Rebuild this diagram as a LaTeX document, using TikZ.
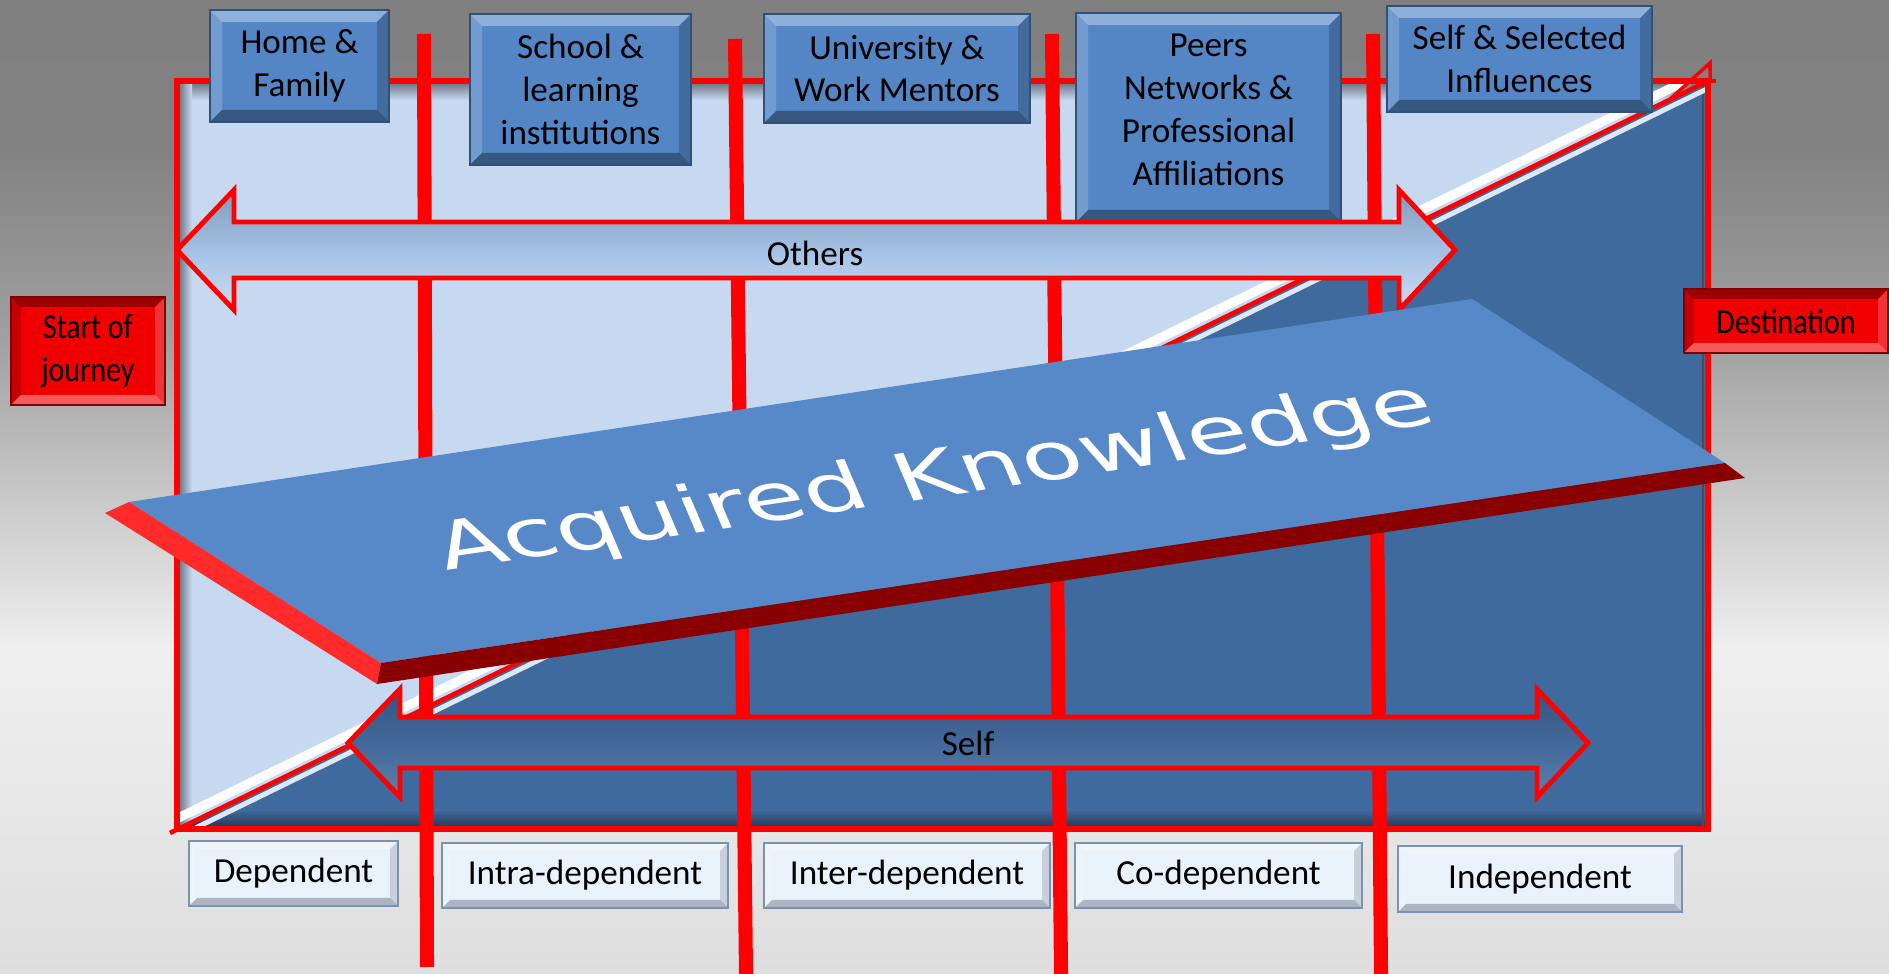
\documentclass[tikz,border=0pt]{standalone}
\usepackage{fontspec}
\setmainfont{Carlito}
\newfontfamily\platefont{DejaVu Sans}
\newfontfamily\condfont[FakeStretch=0.85]{Carlito}
\usetikzlibrary{calc}

\definecolor{framelight}{RGB}{198,217,241}
\definecolor{framedark}{RGB}{63,106,158}
\definecolor{boxblue}{RGB}{84,134,198}
\definecolor{platetop}{RGB}{87,137,200}
\definecolor{plateside}{RGB}{255,42,42}
\definecolor{platefront}{RGB}{136,0,0}
\definecolor{othersfill}{RGB}{163,193,229}
\definecolor{selffill}{RGB}{66,105,155}
\definecolor{lowfill}{RGB}{233,241,251}
\definecolor{lowedge}{RGB}{120,145,180}
\definecolor{journeyred}{RGB}{240,0,0}

\tikzset{%
	bevel/.style n args={3}{path picture={%
		\coordinate (bnw) at (path picture bounding box.north west);
		\coordinate (bne) at (path picture bounding box.north east);
		\coordinate (bsw) at (path picture bounding box.south west);
		\coordinate (bse) at (path picture bounding box.south east);
		\fill[#1,opacity=.35] (bnw) -- (bne) -- ([shift={(-#3,-#3)}]bne) -- ([shift={(#3,-#3)}]bnw) -- cycle;
		\fill[#1,opacity=.18] (bnw) -- (bsw) -- ([shift={(#3,#3)}]bsw) -- ([shift={(#3,-#3)}]bnw) -- cycle;
		\fill[#2,opacity=.2] (bne) -- (bse) -- ([shift={(-#3,#3)}]bse) -- ([shift={(-#3,-#3)}]bne) -- cycle;
		\fill[#2,opacity=.35] (bsw) -- (bse) -- ([shift={(-#3,#3)}]bse) -- ([shift={(#3,#3)}]bsw) -- cycle;
	}},%
	boxopt/.style={#1},%
	topbox/.style={fill=boxblue,draw=boxblue!60!black,line width=.4pt,bevel={white}{black}{.12cm},inner sep=0pt,align=center,font=\fontsize{10}{12.2}\selectfont},%
	lowbox/.style={fill=lowfill,draw=lowedge,line width=.6pt,bevel={white}{lowedge!50!black}{.08cm},inner sep=0pt,font=\fontsize{10}{12.2}\selectfont},%
	redbox/.style={fill=journeyred,draw=red!50!black,line width=.4pt,bevel={black}{white}{.1cm},inner sep=0pt,align=center,font=\condfont\fontsize{10}{12.2}\selectfont},%
	redbar/.style={red,line width=4pt},%
	bigarrow/.style={draw=red,line width=1.4pt,line join=miter},%
}

\begin{document}
\begin{tikzpicture}[x=0.01cm,y=-0.01cm] % picture in pixel units
\useasboundingbox (0,0) rectangle (1889,974);
\foreach \ya/\yb/\ca/\cb in%
{%
	0/150/50/49,150/340/49/37,340/490/37/22,490/650/22/6,650/974/6/13%
}{%
	\fill[top color=black!\ca,bottom color=black!\cb] (0,\ya) rectangle (1889,\yb+1);
}%
\fill[framelight] (177,81) rectangle (1708,829);
\fill[top color=framelight!55!black,bottom color=framelight] (179,83) rectangle (1706,100);
\fill[left color=framelight!55!black,right color=framelight] (179,83) rectangle (192,827);
\begin{scope}
	\clip (177,829) -- (1708,829) -- (1708,81) -- cycle;
	\fill[framedark] (177,829) -- (1708,829) -- (1708,81) -- cycle;
	\fill[top color=framedark,bottom color=framedark!55!black] (177,810) rectangle (1706,827);
	\draw[black!70,line width=.8pt] (1703,85) -- (1703,826);
\end{scope}
\begin{scope}
	\clip (177,81) rectangle (1708,829);
	\draw[white,line width=2.6pt] (166,824) -- (1704,72);
	\draw[framelight!60!white,line width=1.4pt] (173,839) -- (1711,87);
\end{scope}
\draw[red,line width=1.6pt] (177,81) rectangle (1708,829);
\draw[red,line width=1.3pt] (170,833) -- (1708,81);
\draw[red,line width=1pt] (1668,101) -- (1710,63) -- (1710,81);
\draw[red,line width=1.2pt] (1700,81) -- (1716,81);
\foreach \xa/\ya/\xb/\yb in%
{%
	424/34/427/967,735/39/746/974,1052/34/1061/974,1373/34/1381/974%
}{%
	\draw[redbar] (\xa,\ya) -- (\xb,\yb);
}%
\foreach \n/\cx/\cy/\w/\h/\o/\t in%
{%
	home/299.5/66/179/112/{}/{Home \&\\Family},%
	school/580.5/89.5/221/151/{}/{School \&\\learning\\institutions},%
	univ/897/68.5/266/109/{}/{University \&\\Work Mentors},%
	peers/1208.5/117.5/265/209/{text depth=.16cm}/{Peers\\Networks \&\\Professional\\Affiliations},%
	selfsel/1519.5/59/265/106/{}/{Self \& Selected\\Influences}%
}{%
	\node[topbox,minimum width=\w*0.01cm,minimum height=\h*0.01cm,boxopt/.expand once=\o] (\n) at (\cx,\cy) {\t};
}%
\path[bigarrow,top color=othersfill!80!black,bottom color=othersfill!55!white,middle color=othersfill] (177,250) -- (234,190) -- (234,222) -- (1399,222) -- (1399,190) -- (1455,250) -- (1399,310) -- (1399,278) -- (234,278) -- (234,310) -- cycle;
\node[font=\fontsize{10}{12}\selectfont] (otherstxt) at (815,253) {Others};
\path[bigarrow,top color=selffill!80!black,bottom color=selffill!85!white,middle color=selffill] (348,743) -- (400,689) -- (400,717) -- (1537,717) -- (1537,689) -- (1588,743) -- (1537,797) -- (1537,768) -- (400,768) -- (400,797) -- cycle;
\node[font=\fontsize{10}{12}\selectfont] (selftxt) at (968,743) {Self};
\fill[platetop] (129,502) -- (1472,299) -- (1725,463) -- (381,663) -- cycle;
\fill[plateside] (129,502) -- (381,663) -- (377,684) -- (105,513) -- cycle;
\fill[platefront] (381,663) -- (1725,463) -- (1745,478) -- (377,684) -- cycle;
\node[font=\platefont\fontsize{19}{19}\selectfont,text=white,rotate=8.5,xslant=-0.26,xscale=1.47,transform shape] (know) at (935,479) {Acquired Knowledge};
\foreach \n/\cx/\cy/\w/\h/\t in%
{%
	dep/293.5/873.5/209/65/Dependent,%
	intra/585/875.5/286/65/Intra-dependent,%
	inter/907/875.5/286/65/Inter-dependent,%
	codep/1218.5/875.5/287/65/Co-dependent,%
	indep/1540/879/284/66/Independent%
}{%
	\node[lowbox,minimum width=\w*0.01cm,minimum height=\h*0.01cm] (\n) at (\cx,\cy) {\t};
}%
\node[redbox,minimum width=1.54cm,minimum height=1.08cm] (start) at (88,351) {Start of\\journey};
\node[redbox,minimum width=2.04cm,minimum height=.64cm] (dest) at (1786,321) {Destination};
\end{tikzpicture}
\end{document}
